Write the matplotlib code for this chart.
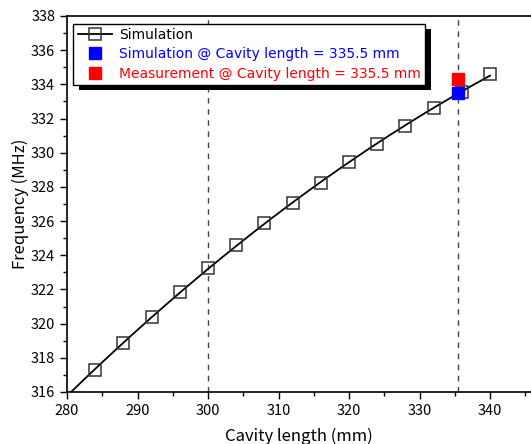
import numpy as np
import matplotlib
matplotlib.use("Agg")
import matplotlib.pyplot as plt
from matplotlib.ticker import MultipleLocator
from matplotlib.patches import Rectangle

plt.rcParams['font.family'] = ['Noto Sans CJK JP', 'DejaVu Sans']

cavity_length = [284, 288, 292, 296, 300, 304, 308, 312, 316, 320, 324, 328, 332, 336, 340]
frequency = [317.29, 318.87, 320.39, 321.85, 323.25, 324.60, 325.89, 327.06, 328.23,
             329.46, 330.51, 331.56, 332.62, 333.55, 334.61]
sim_point = (335.5, 333.5)
meas_point = (335.5, 334.3)
ref_lines = [300, 335.5]

fig = plt.figure(figsize=(5.31, 4.44), dpi=100)
ax = fig.add_axes([67/531, 1-392/444, 1-67/531, (392-16)/444])

# smooth curve through simulation points
coef = np.polyfit(cavity_length, frequency, 2)
xs = np.linspace(280, 340, 200)
ax.plot(xs, np.polyval(coef, xs), color='black', lw=1.3, zorder=3)
ax.plot(cavity_length, frequency, ls='none', marker='s', ms=8.2, mfc='none',
        mec='#333333', mew=1.1, zorder=4)
line_handle, = ax.plot([], [], color='black', lw=1.3, marker='s', ms=8.2, mfc='none',
                       mec='#333333', mew=1.1)

for xv in ref_lines:
    ax.axvline(xv, color='#444444', ls=(0, (4, 4)), lw=1.0, zorder=1)

h_sim, = ax.plot([sim_point[0]], [sim_point[1]], ls='none', marker='s', ms=8.5,
                 color='#0000ff', zorder=4.5)
h_meas, = ax.plot([meas_point[0]], [meas_point[1]], ls='none', marker='s', ms=8.5,
                  color='#ff0000', zorder=4.4)

ax.set_xlim(280, 345.8)
ax.set_ylim(316, 338)
ax.xaxis.set_major_locator(MultipleLocator(10))
ax.xaxis.set_minor_locator(MultipleLocator(5))
ax.yaxis.set_major_locator(MultipleLocator(2))
ax.yaxis.set_minor_locator(MultipleLocator(1))
ax.tick_params(which='major', direction='out', length=5, width=1, labelsize=10.5)
ax.tick_params(which='minor', direction='out', length=3, width=1)
ax.tick_params(top=False, right=False)
ax.spines['right'].set_visible(False)
for s in ['left', 'bottom', 'top']:
    ax.spines[s].set_linewidth(1.2)

ax.set_xlabel('Cavity length (mm)', fontsize=12, labelpad=7)
ax.set_ylabel('Frequency (MHz)', fontsize=12, labelpad=1)

leg = ax.legend([line_handle, h_sim, h_meas],
                ['Simulation', 'Simulation @ Cavity length = 335.5 mm',
                 'Measurement @ Cavity length = 335.5 mm'],
                loc='upper left', bbox_to_anchor=(0.014, 0.979),
                prop={'family': ['DejaVu Sans'], 'size': 10.0},
                frameon=True, fancybox=False, edgecolor='black', framealpha=1,
                shadow=False, borderpad=0.3,
                labelspacing=0.38, handlelength=2.5, handletextpad=0.5,
                borderaxespad=0)
leg.get_frame().set_linewidth(1.0)
texts = leg.get_texts()
texts[1].set_color('#0000ff')
texts[2].set_color('#ff0000')

fig.canvas.draw()
bb = leg.get_window_extent()
shadow = Rectangle((bb.x0 + 6, bb.y0 - 5), bb.width, bb.height, transform=None,
                   facecolor='black', edgecolor='none', zorder=4.9)
ax.add_artist(shadow)

fig.savefig('out.png', dpi=100)
